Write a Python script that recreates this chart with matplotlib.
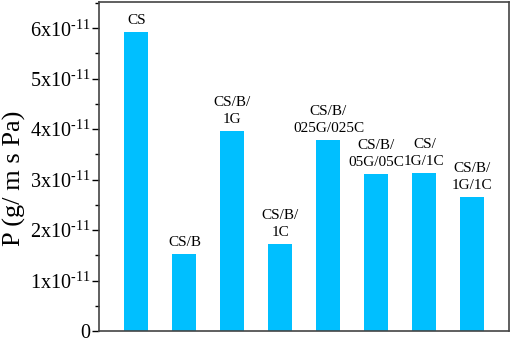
import matplotlib
matplotlib.use("Agg")
import matplotlib.pyplot as plt
from matplotlib.ticker import MultipleLocator, FuncFormatter

plt.rcParams['font.family'] = ['Liberation Serif', 'DejaVu Serif']
plt.rcParams['mathtext.default'] = 'regular'
plt.rcParams['mathtext.fontset'] = 'custom'
plt.rcParams['mathtext.rm'] = 'Liberation Serif'
plt.rcParams['axes.unicode_minus'] = False

categories = ["CS", "CS/B", "CS/B/\n1G", "CS/B/\n1C", "CS/B/\n025G/025C",
              "CS/B/\n05G/05C", "CS/\n1G/1C", "CS/B/\n1G/1C"]
values = [5.92, 1.52, 3.97, 1.73, 3.79, 3.12, 3.14, 2.66]  # x 1e-11

fig = plt.figure(figsize=(5.12, 3.39), dpi=100)
ax = fig.add_axes([0.1934, 0.0236, 0.8006, 0.9704])

x = list(range(len(values)))
ax.bar(x, values, width=0.5, color='#00BFFF')
for xi, v, lab in zip(x, values, categories):
    ax.text(xi, v + 0.1, lab, ha='center', va='bottom', fontsize=11,
            linespacing=1.35)

ax.set_xlim(-0.78, 7.76)
ax.set_ylim(0, 6.52)
ax.set_xticks([])
ax.yaxis.set_major_locator(MultipleLocator(1))
ax.yaxis.set_minor_locator(MultipleLocator(0.5))

def fmt(v, pos):
    if abs(v) < 1e-9:
        return '0'
    return r'%dx10$^{\text{-11}}$' % round(v)

ax.yaxis.set_major_formatter(FuncFormatter(fmt))
ax.tick_params(axis='y', which='major', length=5, labelsize=14.5, direction='out', width=1, pad=1)
ax.tick_params(axis='y', which='minor', length=3, direction='out', width=1)
for s in ax.spines.values():
    s.set_color('#444444')
    s.set_linewidth(1.2)
fig.text(14 / 512, 1 - 178 / 339, 'P (g/ m s Pa)', fontsize=19, rotation=90,
         ha='center', va='center')

fig.savefig('out.png', dpi=100)
